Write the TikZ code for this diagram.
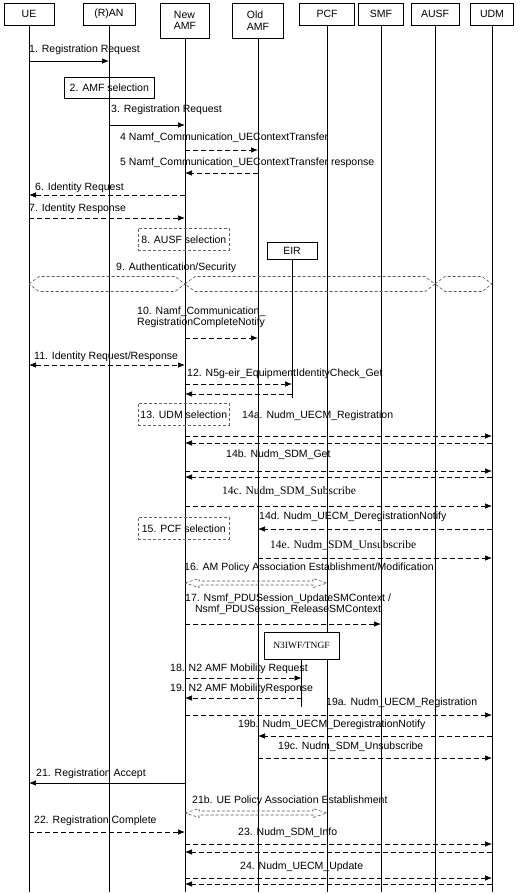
\documentclass[tikz,border=0pt]{standalone}
\usepackage{fontspec}
\setmainfont{Liberation Sans}
\newfontfamily\policeserif{Liberation Serif}
\usetikzlibrary{arrows.meta,calc}

\begin{document}
\begin{tikzpicture}[x=1pt,y=-1pt]
	% Styles
	\tikzstyle{entite}=[draw,line width=0.6pt,inner sep=0pt,font=\fontsize{10.5}{11.5}\selectfont]
	\tikzstyle{vie}=[line width=0.6pt]
	\tikzstyle{fleche}=[->,>={Latex[length=7pt,width=5.5pt]},line width=0.7pt]
	\tikzstyle{pointille}=[fleche,dash pattern=on 5pt off 3pt]
	\tikzstyle{etiquette}=[anchor=west,inner sep=0pt,font=\fontsize{10.5}{11.5}\selectfont]
	\tikzstyle{etiquetteserif}=[etiquette,font=\policeserif\fontsize{11.5}{13}\selectfont]
	\tikzstyle{choix}=[draw=black!60,dash pattern=on 3pt off 2pt,line width=0.6pt,anchor=north west,inner sep=0pt,minimum width=91pt,minimum height=22pt,font=\fontsize{10.5}{11.5}\selectfont]
	\tikzstyle{creux}=[draw=black!65,dash pattern=on 3pt off 2pt,line width=0.6pt]
	% Dimensions
	\def\Bas{892}
	\useasboundingbox (0,0) rectangle (526,894);
	% Entites
	\node[entite,minimum width=50pt,minimum height=22pt] (UE) at (29,14) {UE};
	\node[entite,minimum width=52pt,minimum height=22pt] (RAN) at (109,14) {(R)AN};
	\node[entite,minimum width=49pt,minimum height=35pt,align=left] (NAMF) at (185,20.5) {New\\AMF};
	\node[entite,minimum width=51pt,minimum height=35pt,align=left] (OAMF) at (258,20.5) {Old\\AMF};
	\node[entite,minimum width=55pt,minimum height=22pt] (PCF) at (327,14) {PCF};
	\node[entite,minimum width=45pt,minimum height=22pt] (SMF) at (381,14) {SMF};
	\node[entite,minimum width=48pt,minimum height=22pt] (AUSF) at (435,14) {AUSF};
	\node[entite,minimum width=43pt,minimum height=22pt] (UDM) at (492,14) {UDM};
	% Lignes de vie
	\draw[vie] (UE.south) -- (UE.south |- 0,\Bas);
	\draw[vie] (RAN.south) -- (RAN.south |- 0,\Bas);
	\draw[vie] (NAMF.south) -- (NAMF.south |- 0,\Bas);
	\draw[vie] (OAMF.south) -- (OAMF.south |- 0,\Bas);
	\draw[vie] (PCF.south) -- (PCF.south |- 0,\Bas);
	\draw[vie] (SMF.south) -- (SMF.south |- 0,\Bas);
	\draw[vie] (AUSF.south) -- (AUSF.south |- 0,\Bas);
	\draw[vie] (UDM.south) -- (UDM.south |- 0,\Bas);
	\node[entite,minimum width=50pt,minimum height=17pt] (EIR) at (292,250.5) {EIR\hspace{14pt}};
	\draw[vie] (EIR.south) -- (EIR.south |- 0,398);
	\node[entite,fill=white,font=\policeserif\fontsize{9.5}{10}\selectfont,minimum width=75pt,minimum height=27pt] (N3IWF) at (301.5,645.5) {N3IWF/TNGF};
	\draw[vie] (N3IWF.south) -- (N3IWF.south |- 0,707);
	% Messages
	\node[etiquette] (m1) at (29,50) {1. Registration Request};
	\draw[fleche] (UE |- 0,61) -- (RAN |- 0,61);
	\node[draw,line width=0.6pt,anchor=north west,inner sep=0pt,minimum width=90pt,minimum height=21pt,font=\fontsize{10.5}{11.5}\selectfont] (b2) at (64,77) {2. AMF selection};
	\node[etiquette] (m3) at (111,110) {3. Registration Request};
	\draw[fleche] (RAN |- 0,125) -- (NAMF |- 0,125);
	\node[etiquette] (m4) at (120,138) {4 Namf\_Communication\_UEContextTransfer};
	\draw[pointille] (NAMF |- 0,150) -- (OAMF |- 0,150);
	\node[etiquette] (m5) at (120,163) {5 Namf\_Communication\_UEContextTransfer response};
	\draw[pointille] (OAMF |- 0,173) -- (NAMF |- 0,173);
	\node[etiquette] (m6) at (35,188) {6. Identity Request};
	\draw[pointille] (NAMF |- 0,195) -- (UE |- 0,195);
	\node[etiquette] (m7) at (29,209) {7. Identity Response};
	\draw[pointille] (UE |- 0,218) -- (NAMF |- 0,218);
	\node[choix] (b8) at (138,228) {8. AUSF selection};
	\node[etiquette] (m9) at (116,268) {9. Authentication/Security};
	\draw[creux] (UE |- 0,284) -- ++(10,-7.5) -- ($(NAMF |- 0,284)+(-10,-7.5)$) -- (NAMF |- 0,284) -- ++(-10,7.5) -- ($(UE |- 0,284)+(10,7.5)$) -- cycle;
	\draw[creux] (NAMF |- 0,284) -- ++(10,-7.5) -- ($(AUSF |- 0,284)+(-10,-7.5)$) -- (AUSF |- 0,284) -- ++(-10,7.5) -- ($(NAMF |- 0,284)+(10,7.5)$) -- cycle;
	\draw[creux] (AUSF |- 0,284) -- ++(10,-7.5) -- ($(UDM |- 0,284)+(-10,-7.5)$) -- (UDM |- 0,284) -- ++(-10,7.5) -- ($(AUSF |- 0,284)+(10,7.5)$) -- cycle;
	\node[etiquette,align=left] (m10) at (137,317.5) {10. Namf\_Communication\_\\RegistrationCompleteNotify};
	\draw[pointille] (NAMF |- 0,338) -- (OAMF |- 0,338);
	\node[etiquette] (m11) at (34,357) {11. Identity Request/Response};
	\draw[pointille,<->] (UE |- 0,365) -- (NAMF |- 0,365);
	\node[etiquette] (m12) at (187,374) {12. N5g-eir\_EquipmentIdentityCheck\_Get};
	\draw[pointille] (NAMF |- 0,384) -- (EIR |- 0,384);
	\draw[pointille] (EIR |- 0,394) -- (NAMF |- 0,394);
	\node[choix] (b13) at (138,403) {13. UDM selection};
	\node[etiquette] (m14a) at (242,416) {14a. Nudm\_UECM\_Registration};
	\draw[pointille] (NAMF |- 0,436) -- (UDM |- 0,436);
	\draw[pointille] (UDM |- 0,443) -- (NAMF |- 0,443);
	\node[etiquette] (m14b) at (226,455) {14b. Nudm\_SDM\_Get};
	\draw[pointille] (NAMF |- 0,471) -- (UDM |- 0,471);
	\draw[pointille] (UDM |- 0,477) -- (NAMF |- 0,477);
	\node[etiquetteserif] (m14c) at (222,491) {14c. Nudm\_SDM\_Subscribe};
	\draw[pointille] (NAMF |- 0,506) -- (UDM |- 0,506);
	\node[etiquette] (m14d) at (259,517) {14d. Nudm\_UECM\_DeregistrationNotify};
	\draw[pointille] (UDM |- 0,529) -- (OAMF |- 0,529);
	\node[choix] (b15) at (138,517) {15. PCF selection};
	\node[etiquetteserif] (m14e) at (270,545) {14e. Nudm\_SDM\_Unsubscribe};
	\draw[pointille] (OAMF |- 0,558) -- (UDM |- 0,558);
	\node[etiquette] (m16) at (184,568) {16. AM Policy Association Establishment/Modification};
	\draw[creux] (NAMF |- 0,583) -- ++(14,-4.5) -- ++(0,2.5) -- ($(PCF |- 0,581)+(-14,0)$) -- ++(0,-2.5) -- (PCF |- 0,583) -- ++(-14,4.5) -- ++(0,-2.5) -- ($(NAMF |- 0,585)+(14,0)$) -- ++(0,2.5) -- cycle;
	\node[etiquette,align=center] (m17) at (185,604) {17. Nsmf\_PDUSession\_UpdateSMContext /\\Nsmf\_PDUSession\_ReleaseSMContext};
	\draw[pointille] (NAMF |- 0,624) -- (SMF |- 0,624);
	\node[etiquette] (m18) at (170,669) {18. N2 AMF Mobility Request};
	\draw[pointille] (NAMF |- 0,678) -- (N3IWF |- 0,678);
	\node[etiquette] (m19) at (170,689) {19. N2 AMF MobilityResponse};
	\draw[pointille] (N3IWF |- 0,698) -- (NAMF |- 0,698);
	\node[etiquette] (m19a) at (326,703) {19a. Nudm\_UECM\_Registration};
	\draw[pointille] (NAMF |- 0,715) -- (UDM |- 0,715);
	\node[etiquette] (m19b) at (238,725) {19b. Nudm\_UECM\_DeregistrationNotify};
	\draw[pointille] (UDM |- 0,736) -- (OAMF |- 0,736);
	\node[etiquette] (m19c) at (278,747) {19c. Nudm\_SDM\_Unsubscribe};
	\draw[pointille] (OAMF |- 0,758) -- (UDM |- 0,758);
	\node[etiquette] (m21) at (36,774) {21. Registration Accept};
	\draw[fleche] (NAMF |- 0,783) -- (UE |- 0,783);
	\node[etiquette] (m21b) at (192,801) {21b. UE Policy Association Establishment};
	\draw[creux] (NAMF |- 0,813) -- ++(14,-4.5) -- ++(0,2.5) -- ($(PCF |- 0,811)+(-14,0)$) -- ++(0,-2.5) -- (PCF |- 0,813) -- ++(-14,4.5) -- ++(0,-2.5) -- ($(NAMF |- 0,815)+(14,0)$) -- ++(0,2.5) -- cycle;
	\node[etiquette] (m22) at (34,821) {22. Registration Complete};
	\draw[pointille] (UE |- 0,832) -- (NAMF |- 0,832);
	\node[etiquette] (m23) at (238,833) {23. Nudm\_SDM\_Info};
	\draw[pointille] (NAMF |- 0,844) -- (UDM |- 0,844);
	\draw[pointille] (UDM |- 0,852) -- (NAMF |- 0,852);
	\node[etiquette] (m24) at (240,867) {24. Nudm\_UECM\_Update};
	\draw[pointille] (NAMF |- 0,878) -- (UDM |- 0,878);
	\draw[pointille] (UDM |- 0,884) -- (NAMF |- 0,884);
\end{tikzpicture}
\end{document}
